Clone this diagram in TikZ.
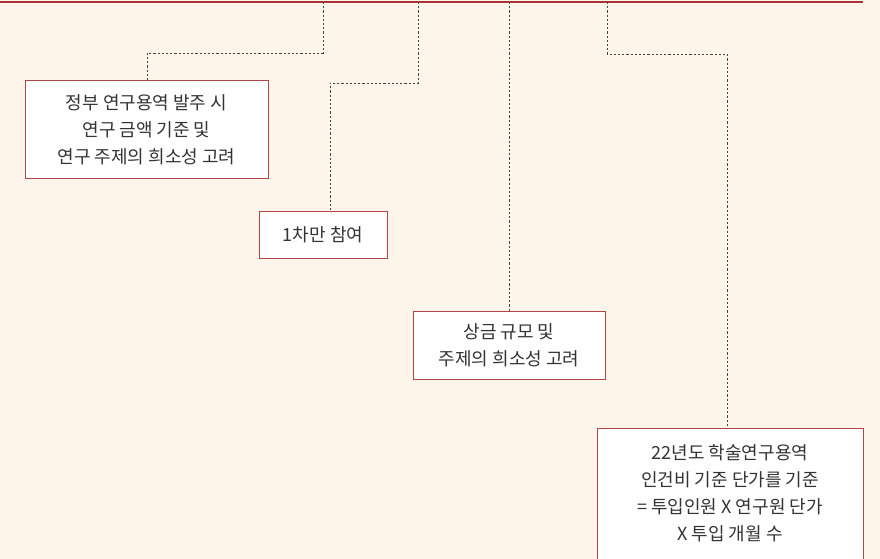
\documentclass[tikz,border=0pt]{standalone}
\usepackage{fontspec}
\setmainfont{Noto Sans CJK KR}
\definecolor{bgc}{HTML}{FDF4EA}
\definecolor{redline}{HTML}{A8343A}
\definecolor{boxline}{HTML}{B04448}
\definecolor{txt}{HTML}{333333}
\definecolor{dotc}{HTML}{444444}
\begin{document}
\begin{tikzpicture}[x=1pt,y=-1pt,
  conn/.style={draw=dotc,line width=0.9pt,dash pattern=on 2.2pt off 2pt},
  infobox/.style={draw=boxline,line width=1pt,fill=white},
  lbl/.style={text=txt,font=\fontsize{18}{27}\selectfont,align=center,inner sep=0pt}]
\useasboundingbox (0,0) rectangle (880,559);
\fill[bgc] (0,0) rectangle (880,559);
% top line
\coordinate (L0) at (0,2);
\coordinate (L1) at (863,2);
\draw[redline,line width=1.2pt] (L0) -- (L1);
% boxes
\draw[infobox] (25,81) rectangle (268,178);
\node[lbl] (t1) at (146.5,129.5) {정부 연구용역 발주 시\\연구 금액 기준 및\\연구 주제의 희소성 고려};
\draw[infobox] (259,211) rectangle (387,258);
\node[lbl] (t2) at (323,234.5) {1차만 참여};
\draw[infobox] (413,311) rectangle (605,379);
\node[lbl] (t3) at (509,345) {상금 규모 및\\주제의 희소성 고려};
\draw[infobox] (597,428) rectangle (863,575);
\node[lbl] (t4) at (730,493) {22년도 학술연구용역\\인건비 기준 단가를 기준\\= 투입인원 X 연구원 단가\\X 투입 개월 수};
% connector coordinates
\coordinate (a0) at (323,2); \coordinate (a1) at (323,53); \coordinate (a2) at (147,53); \coordinate (a3) at (147,81);
\coordinate (b0) at (418,2); \coordinate (b1) at (418,83); \coordinate (b2) at (330,83); \coordinate (b3) at (330,211);
\coordinate (c0) at (509,2); \coordinate (c3) at (509,311);
\coordinate (d0) at (607,2); \coordinate (d1) at (607,54); \coordinate (d2) at (727,54); \coordinate (d3) at (727,428);
\draw[conn] (a0) -- (a1) -- (a2) -- (a3);
\draw[conn] (b0) -- (b1) -- (b2) -- (b3);
\draw[conn] (c0) -- (c3);
\draw[conn] (d0) -- (d1) -- (d2) -- (d3);
\end{tikzpicture}
\end{document}
